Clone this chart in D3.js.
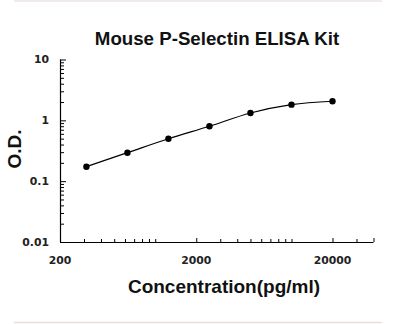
<!DOCTYPE html>
<html><head><meta charset="utf-8">
<script src="https://cdn.jsdelivr.net/npm/d3@7"></script>
<style>html,body{margin:0;padding:0;background:#fff;}svg{display:block;}</style>
</head><body>
<script>
const title = "Mouse P-Selectin ELISA Kit";
const xLabel = "Concentration(pg/ml)";
const yLabel = "O.D.";
const concentrations = [312.5, 625, 1250, 2500, 5000, 10000, 20000];
const odValues = [0.173, 0.294, 0.499, 0.798, 1.32, 1.81, 2.06];
const xTickValues = [200, 2000, 20000];
const yTickValues = [0.01, 0.1, 1, 10];
const xDomain = [200, 40000];
const yDomain = [0.01, 10];

(function () {
const W = 395, H = 324;
const svg = d3.select("body").append("svg").attr("width", W).attr("height", H);

svg.append("line").attr("x1", 14).attr("x2", 382).attr("y1", 1).attr("y2", 1).attr("stroke", "#ece4e6").attr("stroke-width", 1.5);
svg.append("line").attr("x1", 14).attr("x2", 382).attr("y1", 322.5).attr("y2", 322.5).attr("stroke", "#e6dfe0").attr("stroke-width", 1.5);

const mLeft = 60, mRight = 373.5, mTop = 59.5, mBottom = 242;
const x = d3.scaleLog().domain(xDomain).range([mLeft, mRight]);
const y = d3.scaleLog().domain(yDomain).range([mBottom, mTop]);

function minorTicks(domain) {
  const out = [];
  for (let e = Math.floor(Math.log10(domain[0])) - 1; e <= Math.ceil(Math.log10(domain[1])); e++) {
    for (let m = 1; m < 10; m++) {
      const v = m * Math.pow(10, e);
      if (v >= domain[0] * 0.999 && v <= domain[1] * 1.001) out.push(v);
    }
  }
  return out;
}

const yMinor = minorTicks(yDomain).filter(v => !yTickValues.some(t => Math.abs(t - v) < 1e-9));
const xMinor = minorTicks(xDomain).filter(v => !xTickValues.includes(v) && v < 40000);

const yAxisG = svg.append("g").attr("transform", `translate(${mLeft},0)`)
  .call(d3.axisRight(y).tickValues(yTickValues).tickSize(6).tickFormat(""));
yAxisG.select(".domain").attr("d", `M0.5,${mTop}V${mBottom}`).attr("stroke-width", 1.2);
const yMinorG = svg.append("g").attr("transform", `translate(${mLeft},0)`)
  .call(d3.axisRight(y).tickValues(yMinor).tickSize(4).tickFormat(""));
yMinorG.select(".domain").remove();

const xAxisG = svg.append("g").attr("transform", `translate(0,${mBottom})`)
  .call(d3.axisTop(x).tickValues(xTickValues.concat([40000])).tickSize(4).tickFormat(""));
xAxisG.select(".domain").attr("d", `M${mLeft},0.5H${mRight}`).attr("stroke-width", 1.2);
const xMinorG = svg.append("g").attr("transform", `translate(0,${mBottom})`)
  .call(d3.axisTop(x).tickValues(xMinor).tickSize(3).tickFormat(""));
xMinorG.select(".domain").remove();

svg.selectAll(".tick line").attr("stroke", "#000");

const tickFont = "'DejaVu Sans', Verdana, sans-serif";
svg.append("g").selectAll("text").data(yTickValues).join("text")
  .attr("x", 49).attr("y", d => y(d)).attr("dy", "0.35em")
  .attr("text-anchor", "end").attr("font-family", tickFont).attr("font-size", 10.8)
  .attr("font-weight", "bold").attr("fill", "#222")
  .text(d => d3.format("~g")(d));
svg.append("g").selectAll("text").data(xTickValues).join("text")
  .attr("x", d => x(d)).attr("y", 263.5)
  .attr("text-anchor", "middle").attr("font-family", tickFont).attr("font-size", 10.8)
  .attr("font-weight", "bold").attr("fill", "#222")
  .text(d => d);

const pts = concentrations.map((c, i) => [x(c), y(odValues[i])]);
svg.append("path").attr("d", d3.line().curve(d3.curveMonotoneX)(pts))
  .attr("fill", "none").attr("stroke", "#000").attr("stroke-width", 1.2);
svg.append("g").selectAll("circle").data(concentrations).join("circle")
  .attr("cx", d => x(d)).attr("cy", (d, i) => y(odValues[i])).attr("r", 3.2)
  .attr("fill", "#000");

const boldFont = "'Liberation Sans', Arial, sans-serif";
svg.append("text").attr("x", 217).attr("y", 45).attr("text-anchor", "middle")
  .attr("font-family", boldFont).attr("font-weight", "bold").attr("font-size", 18.7)
  .attr("fill", "#111").text(title);
svg.append("text").attr("x", 224).attr("y", 292.5).attr("text-anchor", "middle")
  .attr("font-family", boldFont).attr("font-weight", "bold").attr("font-size", 19)
  .attr("fill", "#111").text(xLabel);
svg.append("text").attr("transform", "translate(20.5,149) rotate(-90)").attr("text-anchor", "middle")
  .attr("font-family", boldFont).attr("font-weight", "bold").attr("font-size", 19)
  .attr("fill", "#111").text(yLabel);
})();
</script>
</body></html>
